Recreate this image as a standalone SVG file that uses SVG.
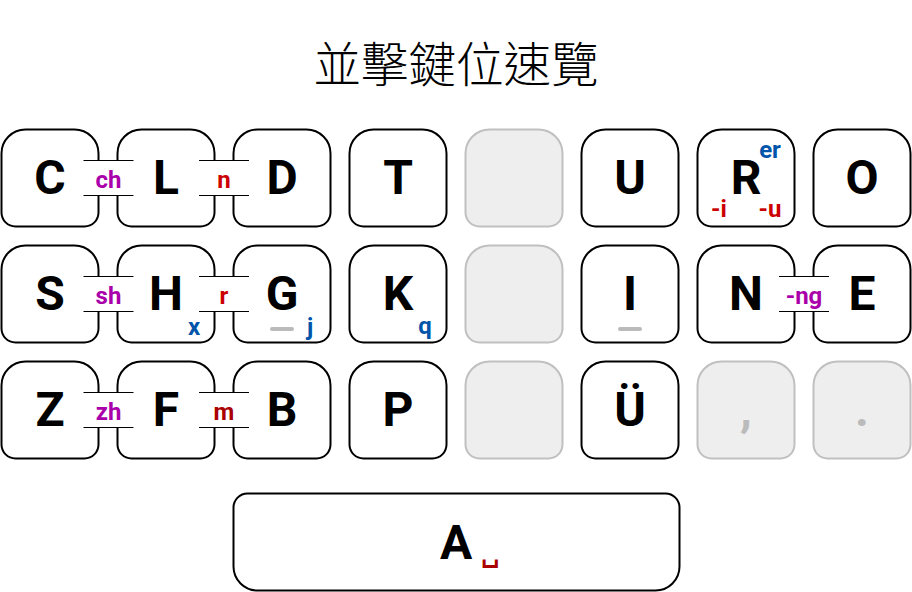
<svg xmlns="http://www.w3.org/2000/svg" width="912" height="592" viewBox="0 0 912 592">
<defs>
<style>
.key{fill:#ffffff;stroke:#000000;stroke-width:2}
.off{fill:#eeeeee;stroke:#c0c0c0;stroke-width:2}
.lt{font-family:Roboto,"Liberation Sans",sans-serif;font-weight:bold;font-size:48px;text-anchor:middle;fill:#000000}
.lg{fill:#bbbbbb}
.sub{font-family:Roboto,"Liberation Sans",sans-serif;font-weight:bold;font-size:24px;text-anchor:middle}
.pu{fill:#aa00aa}
.rd{fill:#cc0000}
.dr{fill:#aa0000}
.bl{fill:#0055aa}
.box{fill:#ffffff;stroke:none}
.bl1{stroke:#000000;stroke-width:1.2}
.bar{stroke:#bbbbbb;stroke-width:4;stroke-linecap:round}
.title{font-family:"Noto Sans CJK TC","Noto Sans CJK SC",sans-serif;font-weight:300;font-size:47.5px;text-anchor:middle;fill:#000000}
</style>
<path id="k" d="M24,0 H73 A24,24 0 0 1 97,24 V83 A14,14 0 0 1 83,97 H14 A14,14 0 0 1 0,83 V24 A24,24 0 0 1 24,0 Z"/>
</defs>
<rect width="912" height="592" fill="#ffffff"/>
<text class="title" x="456" y="81.5">並擊鍵位速覽</text>

<g id="key-C"><use href="#k" class="key" x="1.5" y="129.5"/><text class="lt" x="50" y="194">C</text></g>
<g id="key-L"><use href="#k" class="key" x="117.5" y="129.5"/><text class="lt" x="166" y="194">L</text></g>
<g id="key-D"><use href="#k" class="key" x="233.5" y="129.5"/><text class="lt" x="282" y="194">D</text></g>
<g id="key-T"><use href="#k" class="key" x="349.5" y="129.5"/><text class="lt" x="398" y="194">T</text></g>
<g id="key-blank1"><use href="#k" class="off" x="465.5" y="129.5"/></g>
<g id="key-U"><use href="#k" class="key" x="581.5" y="129.5"/><text class="lt" x="630" y="194">U</text></g>
<g id="key-R"><use href="#k" class="key" x="697.5" y="129.5"/><text class="lt" x="746" y="194">R</text>
<text class="sub bl" x="770" y="158">er</text><text class="sub rd" x="719" y="217">-i</text><text class="sub rd" x="770" y="217">-u</text></g>
<g id="key-O"><use href="#k" class="key" x="813.5" y="129.5"/><text class="lt" x="862" y="194">O</text></g>

<g id="key-S"><use href="#k" class="key" x="1.5" y="245.5"/><text class="lt" x="50" y="310">S</text></g>
<g id="key-H"><use href="#k" class="key" x="117.5" y="245.5"/><text class="lt" x="166" y="310">H</text><text class="sub bl" x="194" y="335">x</text></g>
<g id="key-G"><use href="#k" class="key" x="233.5" y="245.5"/><text class="lt" x="282" y="310">G</text><line class="bar" x1="272" y1="329" x2="292" y2="329"/><text class="sub bl" x="310" y="335">j</text></g>
<g id="key-K"><use href="#k" class="key" x="349.5" y="245.5"/><text class="lt" x="398" y="310">K</text><text class="sub bl" x="425" y="334">q</text></g>
<g id="key-blank2"><use href="#k" class="off" x="465.5" y="245.5"/></g>
<g id="key-I"><use href="#k" class="key" x="581.5" y="245.5"/><text class="lt" x="630" y="310">I</text><line class="bar" x1="620" y1="329" x2="640" y2="329"/></g>
<g id="key-N"><use href="#k" class="key" x="697.5" y="245.5"/><text class="lt" x="746" y="310">N</text></g>
<g id="key-E"><use href="#k" class="key" x="813.5" y="245.5"/><text class="lt" x="862" y="310">E</text></g>

<g id="key-Z"><use href="#k" class="key" x="1.5" y="361.5"/><text class="lt" x="50" y="426">Z</text></g>
<g id="key-F"><use href="#k" class="key" x="117.5" y="361.5"/><text class="lt" x="166" y="426">F</text></g>
<g id="key-B"><use href="#k" class="key" x="233.5" y="361.5"/><text class="lt" x="282" y="426">B</text></g>
<g id="key-P"><use href="#k" class="key" x="349.5" y="361.5"/><text class="lt" x="398" y="426">P</text></g>
<g id="key-blank3"><use href="#k" class="off" x="465.5" y="361.5"/></g>
<g id="key-UE"><use href="#k" class="key" x="581.5" y="361.5"/><text class="lt" x="630" y="426">Ü</text></g>
<g id="key-comma"><use href="#k" class="off" x="697.5" y="361.5"/><text class="lt lg" x="746" y="426">,</text></g>
<g id="key-period"><use href="#k" class="off" x="813.5" y="361.5"/><text class="lt lg" x="862" y="426">.</text></g>

<g id="key-A"><path class="key" d="M247.5,493.5 H665.5 A14,14 0 0 1 679.5,507.5 V566.5 A24,24 0 0 1 655.5,590.5 H257.5 A24,24 0 0 1 233.5,566.5 V507.5 A14,14 0 0 1 247.5,493.5 Z"/>
<text class="lt" x="456" y="559">A</text><text x="490" y="562" style="font-family:'DejaVu Sans',sans-serif;font-weight:bold;font-size:26px;text-anchor:middle;fill:#aa0000">␣</text></g>

<g id="connectors">
<g id="conn-ch"><rect class="box" x="83.5" y="160.5" width="50" height="35"/><line class="bl1" x1="83.5" y1="160.5" x2="133.5" y2="160.5"/><line class="bl1" x1="83.5" y1="195.5" x2="133.5" y2="195.5"/><text class="sub pu" x="108.5" y="187.5">ch</text></g>
<g id="conn-n"><rect class="box" x="199" y="160.5" width="50" height="35"/><line class="bl1" x1="199" y1="160.5" x2="249" y2="160.5"/><line class="bl1" x1="199" y1="195.5" x2="249" y2="195.5"/><text class="sub rd" x="224" y="187.5">n</text></g>
<g id="conn-sh"><rect class="box" x="83.5" y="276.5" width="50" height="35"/><line class="bl1" x1="83.5" y1="276.5" x2="133.5" y2="276.5"/><line class="bl1" x1="83.5" y1="311.5" x2="133.5" y2="311.5"/><text class="sub pu" x="108.5" y="303.5">sh</text></g>
<g id="conn-r"><rect class="box" x="199" y="276.5" width="50" height="35"/><line class="bl1" x1="199" y1="276.5" x2="249" y2="276.5"/><line class="bl1" x1="199" y1="311.5" x2="249" y2="311.5"/><text class="sub rd" x="224" y="303.5">r</text></g>
<g id="conn-ng"><rect class="box" x="779" y="276.5" width="50" height="35"/><line class="bl1" x1="779" y1="276.5" x2="829" y2="276.5"/><line class="bl1" x1="779" y1="311.5" x2="829" y2="311.5"/><text class="sub pu" x="804" y="303.5">-ng</text></g>
<g id="conn-zh"><rect class="box" x="83.5" y="392.5" width="50" height="35"/><line class="bl1" x1="83.5" y1="392.5" x2="133.5" y2="392.5"/><line class="bl1" x1="83.5" y1="427.5" x2="133.5" y2="427.5"/><text class="sub pu" x="108.5" y="419.5">zh</text></g>
<g id="conn-m"><rect class="box" x="199" y="392.5" width="50" height="35"/><line class="bl1" x1="199" y1="392.5" x2="249" y2="392.5"/><line class="bl1" x1="199" y1="427.5" x2="249" y2="427.5"/><text class="sub dr" x="224" y="419.5">m</text></g>
</g>
</svg>
